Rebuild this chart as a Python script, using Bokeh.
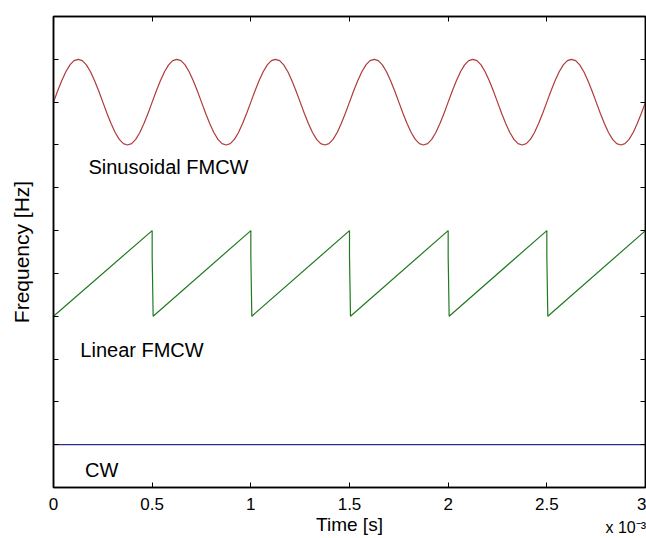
import numpy as np
from bokeh.plotting import figure
from bokeh.models import LinearAxis, FixedTicker, Label, Range1d, CustomJSTickFormatter
from bokeh.embed import file_html
from bokeh.resources import INLINE

# ---- data ----
x_ticks = [0, 0.5, 1, 1.5, 2, 2.5, 3]
x_tick_labels = ["0", "0.5", "1", "1.5", "2", "2.5", "3"]
y_ticks = [1, 2, 3, 4, 5, 6, 7, 8, 9, 10]
expo_tick = [2.9]
expo_text = "x 10\u207b\u00b3"

# sinusoidal FMCW: 24 samples per 0.5 s period, 6 periods
sin_t = list(np.linspace(0, 3, 145))
sin_one = [9.0, 9.26, 9.5, 9.71, 9.87, 9.97, 10.0, 9.97, 9.87, 9.71, 9.5, 9.26,
           9.0, 8.74, 8.5, 8.29, 8.13, 8.03, 8.0, 8.03, 8.13, 8.29, 8.5, 8.74]
sin_f = sin_one * 6 + [9.0]

# linear FMCW (sawtooth)
lin_t = [0, 0.5, 0.5, 0.505, 1.0, 1.0, 1.005, 1.5, 1.5, 1.505, 2.0, 2.0, 2.005,
         2.5, 2.5, 2.505, 3.0]
lin_f = [4, 6, 5.4, 4, 6, 5.4, 4, 6, 5.4, 4, 6, 5.4, 4, 6, 5.4, 4, 6]

# CW
cw_t = [0, 3]
cw_f = [1, 1]

FONT = "Liberation Sans"

p = figure(width=646, height=538, output_backend="svg", toolbar_location=None,
           x_range=Range1d(0, 3), y_range=Range1d(0, 11),
           min_border_left=53, min_border_right=1, min_border_top=16,
           min_border_bottom=51, x_axis_label="Time [s]",
           y_axis_label="Frequency [Hz]")
p.background_fill_color = "white"
p.border_fill_color = "white"
p.grid.visible = False
p.outline_line_color = "black"
p.outline_line_width = 1.5

p.line(sin_t, sin_f, line_color="#b03a3a", line_width=1.2)
p.line(lin_t, lin_f, line_color="#1f7a1f", line_width=1.2)
p.line(cw_t, cw_f, line_color="#2e2e8a", line_width=1.2)

blank = CustomJSTickFormatter(code="return ''")

# axes
xa = p.xaxis[0]
xa.ticker = FixedTicker(ticks=x_ticks)
xa.major_label_overrides = {t: l for t, l in zip(x_ticks, x_tick_labels)}
ya = p.yaxis[0]
ya.ticker = FixedTicker(ticks=y_ticks)
ya.formatter = blank

for ax in (xa, ya):
    ax.major_tick_in = 5
    ax.major_tick_out = 0
    ax.minor_tick_line_color = None
    ax.axis_line_color = "black"
    ax.axis_line_width = 1.5
    ax.major_tick_line_color = "black"
    ax.axis_label_text_font = FONT
    ax.axis_label_text_font_style = "normal"
    ax.axis_label_text_font_size = "19px"
    ax.axis_label_text_color = "black"
    ax.major_label_text_font = FONT
    ax.major_label_text_font_size = "17px"
    ax.major_label_text_color = "black"

xa.major_label_standoff = 10
xa.axis_label_standoff = 1
ya.major_label_text_font_size = "1px"
ya.major_label_standoff = 0
ya.axis_label_standoff = 21
ya.axis_label_text_font_size = "21px"

top = LinearAxis(ticker=FixedTicker(ticks=x_ticks), formatter=blank)
right = LinearAxis(ticker=FixedTicker(ticks=y_ticks), formatter=blank)
for ax in (top, right):
    ax.major_tick_in = 5
    ax.major_tick_out = 0
    ax.minor_tick_line_color = None
    ax.axis_line_color = "black"
    ax.axis_line_width = 1.5
    ax.major_label_text_font_size = "1px"
    ax.major_label_standoff = 0
p.add_layout(top, "above")
p.add_layout(right, "right")

# exponent marker: a second, rule-less bottom axis with one labelled tick
expo = LinearAxis(ticker=FixedTicker(ticks=expo_tick))
expo.major_label_overrides = {expo_tick[0]: expo_text}
expo.axis_line_color = None
expo.major_tick_line_color = None
expo.minor_tick_line_color = None
expo.major_tick_in = 0
expo.major_tick_out = 0
expo.major_label_standoff = -19
expo.major_label_text_font = FONT
expo.major_label_text_font_size = "16px"
expo.major_label_text_color = "black"
p.add_layout(expo, "below")

# text labels
for txt, x, y in [("Sinusoidal FMCW", 0.177, 7.48),
                  ("Linear FMCW", 0.136, 3.2),
                  ("CW", 0.16, 0.4)]:
    p.add_layout(Label(x=x, y=y, text=txt, text_font=FONT,
                       text_font_size="20px", text_color="black",
                       text_baseline="alphabetic"))

open("out.html", "w").write(file_html(p, INLINE))
